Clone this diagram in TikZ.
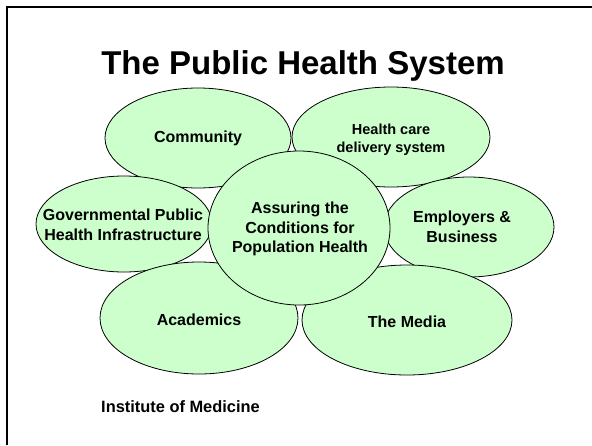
\documentclass[tikz,border=0pt]{standalone}
\usepackage{fontspec}
\setmainfont{Liberation Sans}
\usepackage{tikz}
\usetikzlibrary{shapes.geometric}
\definecolor{bubblegreen}{HTML}{CCFFCC}

\begin{document}
\begin{tikzpicture}[
    x=1pt, y=-1pt, % work in slide pixels, y grows downwards
    bubble/.style={ellipse, draw=black, fill=bubblegreen, line width=0.8pt, inner sep=0pt},
    bubtext/.style={align=center, inner sep=0pt, font=\fontsize{16}{19.5}\selectfont\bfseries}
]
    % Fix the slide size
    \useasboundingbox (0,0) rectangle (592,445);
    % Slide frame (only top and left edges show)
    \draw[line width=2pt] (7,445) -- (7,7) -- (592,7);

    % Title
    \node[anchor=base, font=\fontsize{33}{38}\selectfont\bfseries] (title) at (303,74)
        {The Public Health System};

    % Outer ellipses, back to front
    \node[bubble, minimum width=186pt, minimum height=100pt] (comm) at (198,138) {};
    \node[bubble, minimum width=198pt, minimum height=100pt] (hcare) at (391,137) {};
    \node[bubble, minimum width=176pt, minimum height=96pt] (gov) at (124,224) {};
    \node[bubble, minimum width=170pt, minimum height=100pt] (emp) at (469,227) {};
    \node[bubble, minimum width=198pt, minimum height=112pt] (acad) at (199,318) {};
    \node[bubble, minimum width=210pt, minimum height=110pt] (media) at (407,320) {};
    % Centre ellipse on top
    \node[bubble, minimum width=182pt, minimum height=154pt] (core) at (299,228) {};

    % Labels inside the ellipses
    \node[bubtext] (comm-t) at (comm) {Community};
    \node[bubtext, font=\fontsize{14.5}{18}\selectfont\bfseries] (hcare-t) at ([yshift=-3pt]hcare)
        {Health care\\delivery system};
    \node[bubtext] (gov-t) at ([xshift=-1pt, yshift=-1pt]gov)
        {Governmental Public\\Health Infrastructure};
    \node[bubtext] (emp-t) at ([xshift=-7pt]emp) {Employers \&\\Business};
    \node[bubtext] (acad-t) at ([yshift=-2pt]acad) {Academics};
    \node[bubtext] (media-t) at ([yshift=-2pt]media) {The Media};
    \node[bubtext] (core-t) at ([xshift=1pt, yshift=-1pt]core)
        {Assuring the\\Conditions for\\Population Health};

    % Source line
    \node[anchor=base west, inner sep=0pt, font=\fontsize{16.4}{19}\selectfont\bfseries] (iom) at (101,412)
        {Institute of Medicine};
\end{tikzpicture}
\end{document}
